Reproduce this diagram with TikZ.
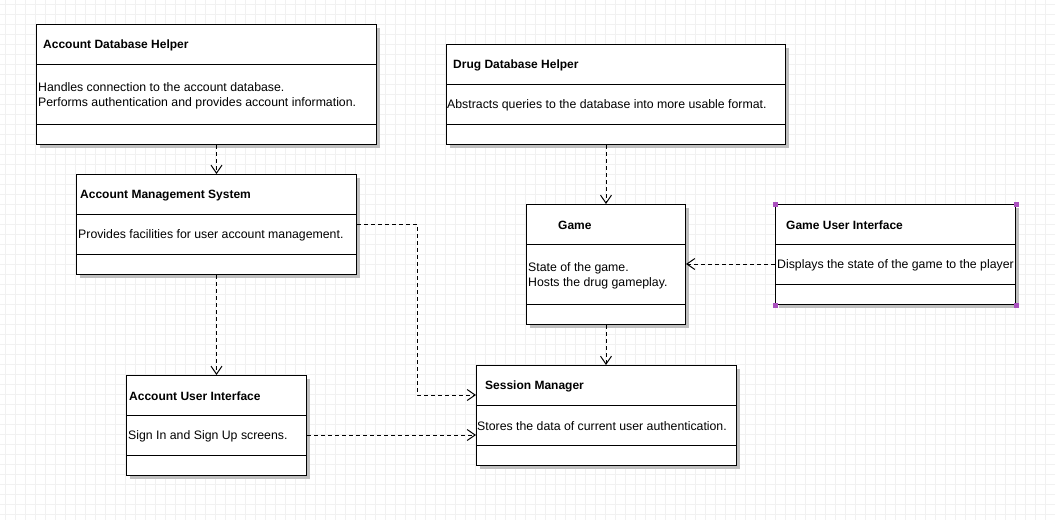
\documentclass[tikz,border=0pt]{standalone}
\usepackage{fontspec}
\setmainfont{Liberation Sans}
\usetikzlibrary{arrows.meta,shadows,calc}
\definecolor{gridc}{RGB}{241,241,241}
\definecolor{shadowc}{RGB}{192,192,192}
\definecolor{selc}{RGB}{170,80,190}
\tikzset{
  classbox/.style={draw=black, line width=1pt, fill=white, inner sep=0pt,
    drop shadow={shadow xshift=3pt, shadow yshift=-3pt, fill=shadowc, opacity=1}},
  ctitle/.style={anchor=west, inner sep=0pt, font=\fontsize{12}{15}\selectfont\bfseries},
  cbody/.style={anchor=west, inner sep=0pt, align=left, font=\fontsize{12.3}{15}\selectfont},
  sepline/.style={draw=black, line width=1pt},
  dep/.style={draw=black, line width=1pt, dash pattern=on 4pt off 3pt,
    -{Straight Barb[length=8pt,width=11pt,line width=1pt]}},
  selmark/.style={fill=selc, draw=none, minimum size=5pt, inner sep=0pt}
}
\begin{document}
\begin{tikzpicture}[x=1pt,y=-1pt]
\useasboundingbox (0,0) rectangle (1055,520);
\fill[white] (0,0) rectangle (1055,520);
\foreach \gx in {5,15,...,1055} \draw[gridc, line width=1pt] (\gx,0) -- (\gx,520);
\foreach \gy in {4,14,...,520} \draw[gridc, line width=1pt] (0,\gy) -- (1055,\gy);

% Account Database Helper
\node[classbox, minimum width=340pt, minimum height=120pt, anchor=north west] (adh) at (36,24) {};
\draw[sepline] ([yshift=-40pt]adh.north west) -- ([yshift=-40pt]adh.north east);
\draw[sepline] ([yshift=-100pt]adh.north west) -- ([yshift=-100pt]adh.north east);
\node[ctitle] (adht) at ([xshift=7pt,yshift=-21.5pt]adh.north west) {Account Database Helper};
\node[cbody] (adhb) at ([xshift=2pt,yshift=-72pt]adh.north west) {Handles connection to the account database.\\Performs authentication and provides account information.};

% Drug Database Helper
\node[classbox, minimum width=339pt, minimum height=100pt, anchor=north west] (ddh) at (446,44) {};
\draw[sepline] ([yshift=-40pt]ddh.north west) -- ([yshift=-40pt]ddh.north east);
\draw[sepline] ([yshift=-80pt]ddh.north west) -- ([yshift=-80pt]ddh.north east);
\node[ctitle] (ddht) at ([xshift=7pt,yshift=-21.5pt]ddh.north west) {Drug Database Helper};
\node[cbody] (ddhb) at ([xshift=1pt,yshift=-61.5pt]ddh.north west) {Abstracts queries to the database into more usable format.};

% Account Management System
\node[classbox, minimum width=280pt, minimum height=100pt, anchor=north west] (ams) at (76,174) {};
\draw[sepline] ([yshift=-40pt]ams.north west) -- ([yshift=-40pt]ams.north east);
\draw[sepline] ([yshift=-80pt]ams.north west) -- ([yshift=-80pt]ams.north east);
\node[ctitle] (amst) at ([xshift=4pt,yshift=-21.5pt]ams.north west) {Account Management System};
\node[cbody] (amsb) at ([xshift=2pt,yshift=-61.5pt]ams.north west) {Provides facilities for user account management.};

% Game
\node[classbox, minimum width=159pt, minimum height=120pt, anchor=north west] (game) at (526,204) {};
\draw[sepline] ([yshift=-40pt]game.north west) -- ([yshift=-40pt]game.north east);
\draw[sepline] ([yshift=-100pt]game.north west) -- ([yshift=-100pt]game.north east);
\node[ctitle] (gamet) at ([xshift=32pt,yshift=-21.5pt]game.north west) {Game};
\node[cbody] (gameb) at ([xshift=2pt,yshift=-72pt]game.north west) {State of the game.\\Hosts the drug gameplay.};

% Game User Interface
\node[classbox, minimum width=240pt, minimum height=100pt, anchor=north west] (gui) at (775,204) {};
\draw[sepline] ([yshift=-40pt]gui.north west) -- ([yshift=-40pt]gui.north east);
\draw[sepline] ([yshift=-80pt]gui.north west) -- ([yshift=-80pt]gui.north east);
\node[ctitle] (guit) at ([xshift=11pt,yshift=-21.5pt]gui.north west) {Game User Interface};
\node[cbody] (guib) at ([xshift=2pt,yshift=-61.5pt]gui.north west) {Displays the state of the game to the player};
\node[selmark] (m1) at (gui.north west) {};
\node[selmark] (m2) at (gui.north east) {};
\node[selmark] (m3) at (gui.south west) {};
\node[selmark] (m4) at (gui.south east) {};

% Account User Interface
\node[classbox, minimum width=180pt, minimum height=100pt, anchor=north west] (aui) at (126,375) {};
\draw[sepline] ([yshift=-40pt]aui.north west) -- ([yshift=-40pt]aui.north east);
\draw[sepline] ([yshift=-80pt]aui.north west) -- ([yshift=-80pt]aui.north east);
\node[ctitle] (auit) at ([xshift=3pt,yshift=-21.5pt]aui.north west) {Account User Interface};
\node[cbody] (auib) at ([xshift=2pt,yshift=-61.5pt]aui.north west) {Sign In and Sign Up screens.};

% Session Manager
\node[classbox, minimum width=260pt, minimum height=100pt, anchor=north west] (sm) at (476,365) {};
\draw[sepline] ([yshift=-40pt]sm.north west) -- ([yshift=-40pt]sm.north east);
\draw[sepline] ([yshift=-80pt]sm.north west) -- ([yshift=-80pt]sm.north east);
\node[ctitle] (smt) at ([xshift=9pt,yshift=-21.5pt]sm.north west) {Session Manager};
\node[cbody] (smb) at ([xshift=1pt,yshift=-61.5pt]sm.north west) {Stores the data of current user authentication.};

% Connectors
\draw[dep] (adh.south -| ams.north) -- (ams.north);
\draw[dep] (ddh.south -| game.north) -- (game.north);
\draw[dep] (ams.south) -- (aui.north);
\draw[dep] ([yshift=-50pt]ams.north east) -- ++(60,0) |- ([yshift=-30pt]sm.north west);
\draw[dep] ([yshift=-60pt]aui.north east) -- ([yshift=-60pt]aui.north east -| sm.west);
\draw[dep] (game.south) -- (game.south |- sm.north);
\draw[dep] ([yshift=-60pt]gui.north west) -- ([yshift=-60pt]gui.north west -| game.east);
\end{tikzpicture}
\end{document}
